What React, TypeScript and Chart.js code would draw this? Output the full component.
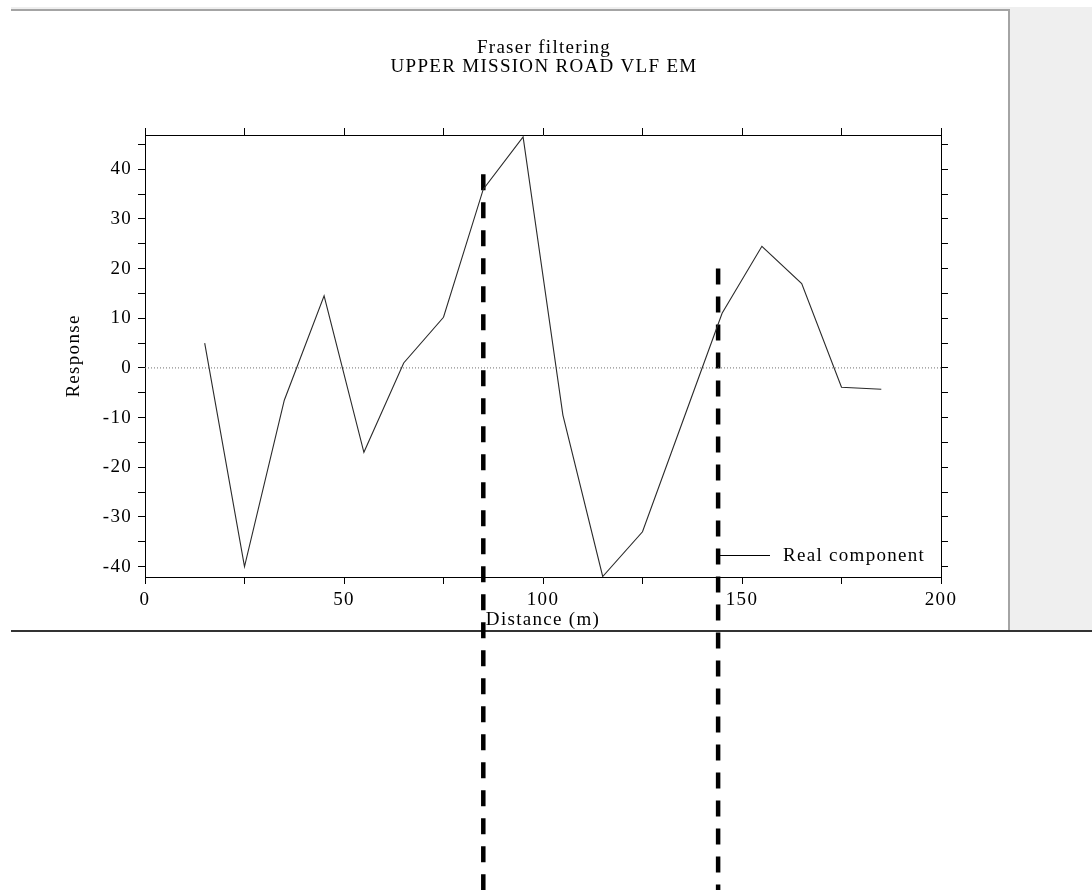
import React, { useEffect, useRef } from "react";
import { Chart, registerables } from "chart.js";

Chart.register(...registerables);

// ---- data ----
const distance = [15, 25, 35, 45, 55, 65, 75, 85, 95, 105, 115, 125, 135, 145, 155, 165, 175, 185];
const realComponent = [5, -40, -6.5, 14.5, -17, 1, 10.2, 36, 46.5, -9.5, -42, -33, -11, 11, 24.5, 17, -3.9, -4.3];
const seriesLabel = "Real component";
const titleLines = ["Fraser filtering", "UPPER MISSION ROAD VLF EM"];
const xTitle = "Distance (m)";
const yTitle = "Response";
// marker lines (distance, top response value, bottom response value)
const markerX = [85, 144];
const markerTop = [39, 20];
const markerBottom = [-106, -106];
const zeroLineX = [0, 200];
const zeroLineY = [0, 0];

const X_MIN = 0, X_MAX = 200, X_STEP = 25, X_LABEL_STEP = 50;
const Y_MIN = -42.1, Y_MAX = 46.9, Y_STEP = 5, Y_LABEL_STEP = 10;

const FONT = '"Liberation Serif", "Times New Roman", serif';
const FSIZE = 19;
const SPACING = "1.3px";

const backgroundPlugin = {
  id: "pageBackground",
  beforeDraw(chart: any) {
    const ctx = chart.ctx as CanvasRenderingContext2D;
    const W = chart.width, H = chart.height;
    ctx.save();
    ctx.fillStyle = "#ffffff";
    ctx.fillRect(0, 0, W, H);
    ctx.fillStyle = "#efefef";
    ctx.fillRect(11, 7, W - 11, 624);
    ctx.fillStyle = "#ffffff";
    ctx.fillRect(11, 11, 997, 620);
    ctx.fillStyle = "#a4a4a4";
    ctx.fillRect(11, 9, 999, 2);
    ctx.fillRect(1008, 9, 2, 622);
    ctx.fillStyle = "#333333";
    ctx.fillRect(11, 630, W - 11, 2);
    ctx.restore();
    (ctx as any).letterSpacing = SPACING;
  },
  afterDraw(chart: any) {
    const ctx = chart.ctx as CanvasRenderingContext2D;
    const area = chart.chartArea;
    const ds = chart.data.datasets[0];
    const y = area.bottom - 22;
    const x0 = area.right - 224;
    ctx.save();
    ctx.strokeStyle = "#000";
    ctx.lineWidth = 1;
    ctx.beginPath();
    ctx.moveTo(x0, y + 0.5);
    ctx.lineTo(x0 + 53, y + 0.5);
    ctx.stroke();
    ctx.fillStyle = "#000";
    ctx.font = `${FSIZE}px ${FONT}`;
    (ctx as any).letterSpacing = SPACING;
    ctx.textBaseline = "middle";
    ctx.textAlign = "left";
    ctx.fillText(ds.label, x0 + 66, y + 1);
    ctx.restore();
  },
};

export default function App() {
  const ref = useRef<HTMLCanvasElement>(null);

  useEffect(() => {
    if (!ref.current) return;
    const tickFont = { family: FONT, size: FSIZE, weight: "normal" as const };
    const commonGrid = {
      drawOnChartArea: false,
      drawTicks: true,
      tickLength: 7,
      tickColor: "#000",
      tickWidth: 1,
    };
    const border = { display: true, color: "#000", width: 1 };

    const chart = new Chart(ref.current, {
      type: "line",
      data: {
        datasets: [
          {
            label: seriesLabel,
            data: distance.map((d, i) => ({ x: d, y: realComponent[i] })),
            borderColor: "#2a2a2a",
            borderWidth: 1.1,
            pointRadius: 0,
            tension: 0,
            fill: false,
          },
          {
            label: "zero",
            data: zeroLineX.map((d, i) => ({ x: d, y: zeroLineY[i] })),
            borderColor: "#707070",
            borderWidth: 1,
            borderDash: [1, 2],
            pointRadius: 0,
            fill: false,
          },
          ...markerX.map((mx, i) => ({
            label: "marker" + i,
            data: [
              { x: mx, y: markerTop[i] },
              { x: mx, y: markerBottom[i] },
            ],
            borderColor: "#000",
            borderWidth: 4.5,
            borderDash: [16, 12],
            borderCapStyle: "butt" as const,
            pointRadius: 0,
            fill: false,
            clip: false as any,
          })),
        ],
      },
      options: {
        animation: false,
        responsive: false,
        devicePixelRatio: 1,
        events: [],
        layout: { padding: { left: 10, right: 14, top: 0, bottom: 250 } },
        plugins: {
          legend: { display: false },
          tooltip: { enabled: false },
          title: {
            display: true,
            text: titleLines,
            color: "#000",
            font: { family: FONT, size: FSIZE, weight: "normal", lineHeight: 1.0 },
            padding: { top: 38.5, bottom: 38.5 },
          },
        },
        scales: {
          x: {
            type: "linear",
            position: "bottom",
            min: X_MIN,
            max: X_MAX,
            grid: commonGrid,
            border,
            ticks: {
              stepSize: X_STEP,
              autoSkip: false,
              maxRotation: 0,
              padding: 5,
              color: "#000",
              font: tickFont,
              callback: (v: any) => (Number(v) % X_LABEL_STEP === 0 ? String(v) : ""),
            },
            title: {
              display: true,
              text: xTitle,
              color: "#000",
              font: { family: FONT, size: FSIZE, weight: "normal" },
              padding: { top: 0, bottom: 8.5 },
            },
            afterFit: (s: any) => { s.height = 63; },
          },
          x2: {
            type: "linear",
            axis: "x",
            position: "top",
            min: X_MIN,
            max: X_MAX,
            grid: commonGrid,
            border,
            ticks: {
              stepSize: X_STEP,
              autoSkip: false,
              maxRotation: 0,
              callback: () => "",
            },
            afterFit: (s: any) => { s.height = 20; },
          },
          y: {
            type: "linear",
            position: "left",
            min: Y_MIN,
            max: Y_MAX,
            grid: commonGrid,
            border,
            ticks: {
              stepSize: Y_STEP,
              includeBounds: false,
              maxTicksLimit: 100,
              autoSkip: false,
              padding: 6,
              color: "#000",
              font: tickFont,
              callback: (v: any) => (Number(v) % Y_LABEL_STEP === 0 ? String(v) : ""),
            },
            title: {
              display: true,
              text: yTitle,
              color: "#000",
              font: { family: FONT, size: FSIZE, weight: "normal" },
              padding: { top: 52.5, bottom: 0 },
            },
            afterFit: (s: any) => { s.width = 135; },
          },
          y2: {
            type: "linear",
            axis: "y",
            position: "right",
            min: Y_MIN,
            max: Y_MAX,
            grid: commonGrid,
            border,
            ticks: {
              stepSize: Y_STEP,
              includeBounds: false,
              maxTicksLimit: 100,
              autoSkip: false,
              callback: () => "",
            },
            afterFit: (s: any) => { s.width = 137; },
          },
        },
      } as any,
      plugins: [backgroundPlugin],
    });
    return () => chart.destroy();
  }, []);

  return (
    <div style={{ position: "absolute", left: 0, top: 0, width: 1092, height: 890 }}>
      <canvas ref={ref} width={1092} height={890} style={{ display: "block", width: 1092, height: 890 }} />
    </div>
  );
}
